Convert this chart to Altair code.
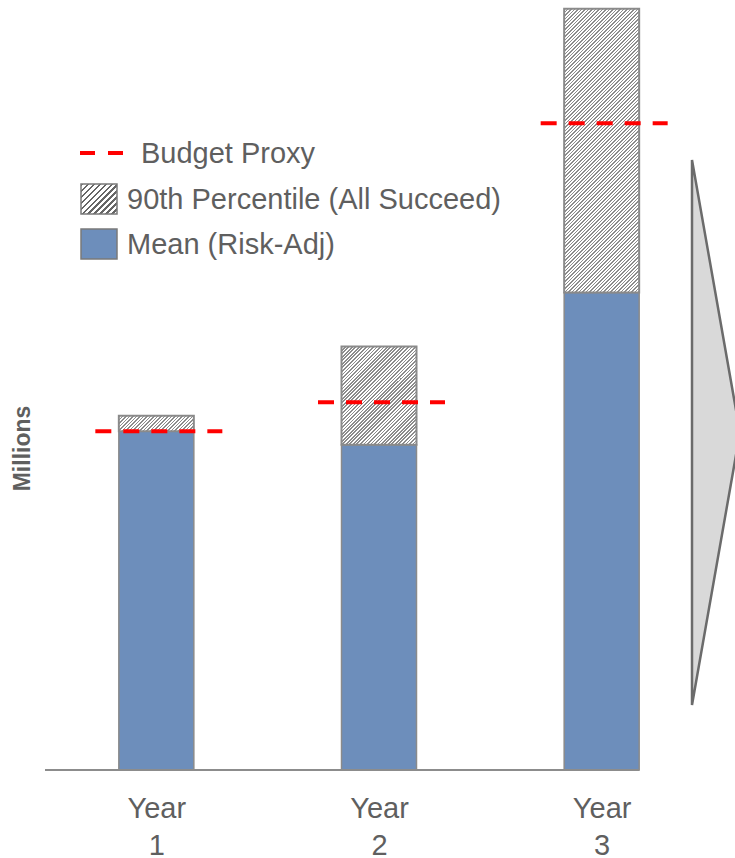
import json
import math

import altair as alt
import pandas as pd

# ---- data (millions) ----
years = ["Year 1", "Year 2", "Year 3"]
year_idx = [1, 2, 3]
mean_risk_adj = [17.6, 16.9, 24.8]
p90_all_succeed = [18.4, 22.0, 39.55]
budget_proxy = [17.6, 19.1, 33.6]

df = pd.DataFrame({
    "year": years,
    "idx": year_idx,
    "mean": mean_risk_adj,
    "p90": p90_all_succeed,
    "budget": budget_proxy,
})

# ---- layout / style ----
PLOT_W, PLOT_H = 668, 770
Y_MAX = 40.0
BAR_W = 75
FONT = "Liberation Sans"
TEXT = "#5f5f5f"
BLUE = "#6d8ebb"
EDGE = "#8a8a8a"
RED = "#ff0000"
px_per_unit = PLOT_H / Y_MAX


def hatch(w, h, period=4.0, dark_frac=0.38, dark="#777777", light="#ffffff"):
    """Diagonal '/' hatching as a striped linear gradient sized to a w x h box."""
    span = w + h
    k = span / (w * w + h * h)
    stops = []
    n = int(math.ceil(span / period))
    for i in range(n):
        a = min(i * period / span, 1.0)
        b = min((i * period + period * dark_frac) / span, 1.0)
        c = min((i + 1) * period / span, 1.0)
        stops += [(a, dark), (b, dark), (b, light), (c, light)]
    return {
        "gradient": "linear",
        "x1": 0, "y1": 0, "x2": round(k * w, 6), "y2": round(k * h, 6),
        "stops": [{"offset": round(o, 5), "color": col} for o, col in stops],
    }


label_expr = "split(" + json.dumps(years) + "[datum.value - 1], ' ')"

x_scale = alt.Scale(domain=[0.5, 3.5], nice=False, zero=False, padding=0)
y_scale = alt.Scale(domain=[0, Y_MAX], nice=False, zero=True, padding=0)

x_enc = alt.X(
    "idx:Q",
    scale=x_scale,
    axis=alt.Axis(
        values=year_idx, labelExpr=label_expr, title=None,
        domain=False, ticks=False, grid=False,
        labelFont=FONT, labelFontSize=29, labelColor=TEXT,
        labelLineHeight=37, labelPadding=24, labelBaseline="top",
    ),
)

base = alt.Chart(df)

mean_bars = base.mark_bar(size=BAR_W, fill=BLUE, stroke=EDGE, strokeWidth=1.5).encode(
    x=x_enc,
    y=alt.Y(
        "mean:Q", scale=y_scale,
        axis=alt.Axis(
            title="Millions", labels=False, ticks=False, domain=False, grid=False,
            titleFont=FONT, titleFontSize=23, titleFontWeight="bold", titleColor=TEXT,
            titleX=-23, titleY=448, titleAngle=-90, titleAlign="center",
            titleBaseline="middle",
        ),
    ),
    y2=alt.datum(0),
)

# hatched "all succeed" segments, one layer per year so each gets its own stripe box
hatch_layers = []
for name, m, p in zip(years, mean_risk_adj, p90_all_succeed):
    seg_h = (p - m) * px_per_unit
    hatch_layers.append(
        base.transform_filter(alt.datum.year == name)
        .mark_bar(size=BAR_W,
                  fill=hatch(BAR_W, seg_h, period=3.5, dark_frac=0.45, dark="#8c8c8c"),
                  stroke=EDGE, strokeWidth=2)
        .encode(x="idx:Q", y="p90:Q", y2="mean:Q")
    )

one = alt.Chart(pd.DataFrame({"k": [0]}))

baseline = one.mark_rule(color="#8c8c8c", strokeWidth=2, x2Offset=BAR_W / 2).encode(
    x=alt.datum(0.5), x2=alt.datum(3), y=alt.datum(0)
)

budget_rules = base.mark_rule(
    color=RED, strokeWidth=4, strokeDash=[16, 12], xOffset=-61, x2Offset=66
).encode(x="idx:Q", x2="idx:Q", y="budget:Q")

# ---- legend ----
OX = 45  # plot-area left offset
leg_dash = one.mark_rule(color=RED, strokeWidth=4, strokeDash=[15, 13]).encode(
    x=alt.value(80 - OX), x2=alt.value(123 - OX), y=alt.value(153)
)
leg_hatch = one.mark_rect(fill=hatch(36, 30, period=6.0, dark_frac=0.35, dark="#666666"),
                          stroke="#7a7a7a", strokeWidth=1.5).encode(
    x=alt.value(81 - OX), x2=alt.value(117 - OX), y=alt.value(184), y2=alt.value(214)
)
leg_mean = one.mark_rect(fill=BLUE, stroke="#7a7a7a", strokeWidth=1.5).encode(
    x=alt.value(81 - OX), x2=alt.value(117 - OX), y=alt.value(229), y2=alt.value(259)
)


def leg_text(txt, x, y):
    return one.mark_text(
        text=txt, font=FONT, fontSize=29, color=TEXT, align="left", baseline="middle"
    ).encode(x=alt.value(x - OX), y=alt.value(y))


legend = [
    leg_dash, leg_hatch, leg_mean,
    leg_text("Budget Proxy", 141, 154),
    leg_text("90th Percentile (All Succeed)", 127, 200),
    leg_text("Mean (Risk-Adj)", 127, 245),
]

# ---- progression arrow on the right ----
arrow = one.mark_point(
    shape="M0,-1L0.176,0L0,1Z", size=545 * 545, filled=True, fill="#d9d9d9",
    stroke="#6b6b6b", strokeWidth=2.5, opacity=1,
).encode(x=alt.value(692 - OX), y=alt.value(432.5))

chart = alt.layer(
    mean_bars, *hatch_layers, baseline, budget_rules, *legend, arrow
).properties(
    width=PLOT_W, height=PLOT_H,
    autosize=alt.AutoSizeParams(type="none"),
    padding={"left": OX, "top": 0, "right": 735 - OX - PLOT_W, "bottom": 858 - PLOT_H},
    background="white",
).configure_view(stroke=None)

chart.save("out.html", embed_options={"renderer": "svg", "actions": False})
